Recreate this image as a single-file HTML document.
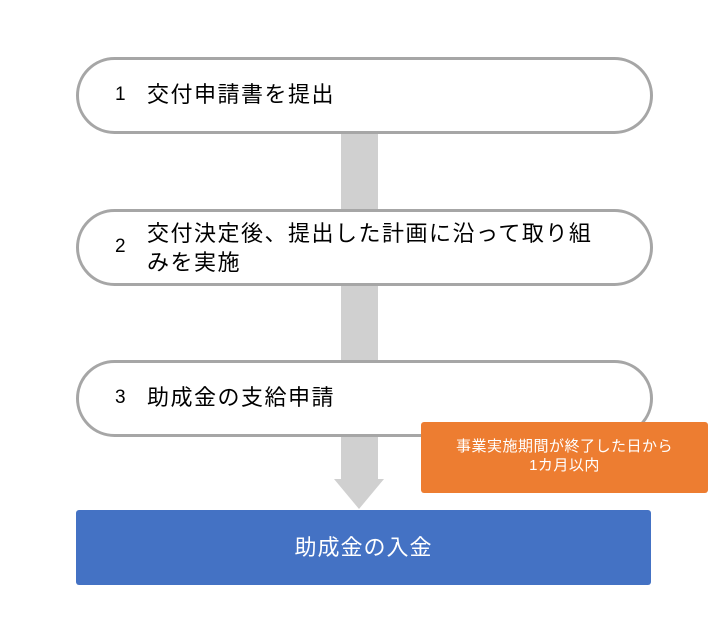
<!DOCTYPE html>
<html><head><meta charset="utf-8"><style>
body{margin:0;width:719px;height:636px;background:#fff;position:relative;overflow:hidden;font-family:"Liberation Sans","Noto Sans CJK JP",sans-serif;}
.bar{position:absolute;left:341px;top:130px;width:37px;height:350px;background:#d0d0d0;}
.head{position:absolute;left:334px;top:479px;width:0;height:0;border-left:25px solid transparent;border-right:25px solid transparent;border-top:30px solid #d0d0d0;}
.pill{position:absolute;left:76px;width:571px;height:71px;border:3px solid #a6a6a6;border-radius:40px;background:#fff;box-sizing:content-box;}
.num{position:absolute;left:36px;font-size:19px;color:#000;}
.txt{position:absolute;left:68px;font-size:22px;letter-spacing:1.5px;color:#000;line-height:29px;width:500px;white-space:nowrap;}
.blue{position:absolute;left:76px;top:510px;width:575px;height:75px;background:#4472c4;border-radius:3px;color:#fff;font-size:22px;letter-spacing:1px;text-align:center;line-height:75px;}
.orange{position:absolute;left:421px;top:422px;width:287px;height:71px;background:#ed7d31;border-radius:3px;color:#fff;font-size:15px;letter-spacing:0.5px;text-align:center;line-height:19px;box-sizing:border-box;padding-top:15px;}
</style></head><body>
<div class="bar"></div><div class="head"></div>
<div class="pill" style="top:57px;"><div class="num" style="top:24px">1</div><div class="txt" style="top:20px">交付申請書を提出</div></div>
<div class="pill" style="top:209px;"><div class="num" style="top:24px">2</div><div class="txt" style="top:7px">交付決定後、提出した計画に沿って取り組<br>みを実施</div></div>
<div class="pill" style="top:360px;"><div class="num" style="top:24px">3</div><div class="txt" style="top:20px">助成金の支給申請</div></div>
<div class="orange">事業実施期間が終了した日から<br>1カ月以内</div>
<div class="blue">助成金の入金</div>
</body></html>
